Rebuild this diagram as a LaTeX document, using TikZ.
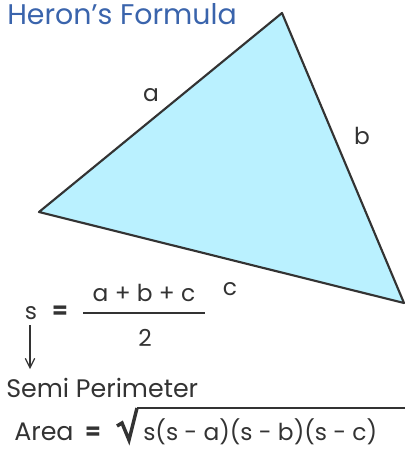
\documentclass[tikz,border=0pt]{standalone}
\usepackage{fontspec}
\setmainfont{Poppins}
\usetikzlibrary{arrows.meta, positioning}
\definecolor{HFblue}{RGB}{58,100,172}
\definecolor{HFink}{RGB}{51,51,51}
\definecolor{HFcyan}{RGB}{186,241,255}

\begin{document}
\begin{tikzpicture}[x=0.75pt, y=-0.75pt,
    lbl/.style={inner sep=0, text=HFink, font=\fontsize{17.5}{20}\selectfont},
    eqs/.style={inner sep=0, text=HFink, font=\fontsize{17}{20}\selectfont\bfseries},
    txt/.style={inner sep=0, text=HFink, font=\fontsize{19}{22}\selectfont, anchor=base west}]
  \useasboundingbox (0,0) rectangle (413,454);
  % title
  \node[inner sep=0, anchor=base west, text=HFblue, font=\fontsize{21.3}{24}\selectfont] (title) at (7,24) {Heron's Formula};
  % triangle
  \coordinate (T) at (282,13);
  \coordinate (L) at (39,212);
  \coordinate (R) at (404,303);
  \fill[HFcyan] (T) -- (L) -- (R) -- cycle;
  \draw[HFink, line width=1.6pt, line join=round] (T) -- (L) -- (R) -- cycle;
  \node[lbl] (la) at (151,95) {a};
  \node[lbl] (lb) at (362,136) {b};
  \node[lbl] (lc) at (230,289) {c};
  % semi perimeter
  \node[lbl] (s) at (31,313) {s};
  \node[eqs] (eq) at (60,312) {=};
  \node[lbl] (num) at (144,293) {a + b + c};
  \node[lbl] (den) at (145,338) {2};
  \coordinate (fl) at (83,313);
  \coordinate (fr) at (205,313);
  \draw[HFink, line width=1pt] (fl) -- (fr);
  \coordinate (sa) at (30,325);
  \coordinate (sb) at (30,369);
  \draw[HFink, line width=0.9pt, -{Straight Barb[length=7pt, width=7pt]}] (sa) -- (sb);
  \node[txt] (semi) at (6,397) {Semi Perimeter};
  % area
  \node[txt] (area) at (14,440) {Area};
  \node[eqs] (eq2) at (93,433) {=};
  \coordinate (r1) at (117,426);
  \coordinate (r2) at (122,423);
  \coordinate (r3) at (129,440);
  \coordinate (r4) at (137,408);
  \coordinate (r5) at (405,408);
  \draw[HFink, line width=2.6pt, line join=miter] (r1) -- (r2) -- (r3) -- (r4);
  \draw[HFink, line width=1.1pt] (r4) -- (r5);
  \node[txt, font=\fontsize{17.5}{20}\selectfont] (rad) at (143,440) {s(s - a)(s - b)(s - c)};
\end{tikzpicture}
\end{document}
